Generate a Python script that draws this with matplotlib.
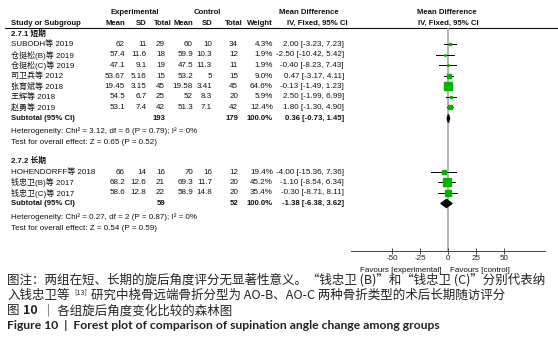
import matplotlib
matplotlib.use('Agg')
from matplotlib import pyplot as plt

plt.rcParams['font.family'] = ['Liberation Sans', 'Noto Sans CJK SC']

# subgroup 2.7.1 (short term)
studies1 = ['SUBODH等 2019', '仓挺松(B)等 2019', '仓挺松(C)等 2019', '司卫兵等 2012',
            '张育斌等 2018', '王辉等 2018', '赵勇等 2019']
exp_mean1 = ['62', '57.4', '47.1', '53.67', '19.45', '54.5', '53.1']
exp_sd1 = ['11', '11.6', '9.1', '5.16', '3.15', '6.7', '7.4']
exp_n1 = [29, 18, 19, 15, 45, 25, 42]
ctl_mean1 = ['60', '59.9', '47.5', '53.2', '19.58', '52', '51.3']
ctl_sd1 = ['10', '10.3', '11.3', '5', '3.41', '8.3', '7.1']
ctl_n1 = [34, 12, 11, 15, 45, 20, 42]
weight1 = [4.3, 1.9, 1.9, 9.0, 64.6, 5.9, 12.4]
md1 = [2.00, -2.50, -0.40, 0.47, -0.13, 2.50, 1.80]
lo1 = [-3.23, -10.42, -8.23, -3.17, -1.49, -1.99, -1.30]
hi1 = [7.23, 5.42, 7.43, 4.11, 1.23, 6.99, 4.90]
sub1 = [0.36, -0.73, 1.45]
het1 = 'Heterogeneity: Chi² = 3.12, df = 6 (P = 0.79); I² = 0%'
test1 = 'Test for overall effect: Z = 0.65 (P = 0.52)'

# subgroup 2.7.2 (long term)
studies2 = ['HOHENDORFF等 2018', '钱忠卫(B)等 2017', '钱忠卫(C)等 2017']
exp_mean2 = ['66', '68.2', '58.6']
exp_sd2 = ['14', '12.6', '12.8']
exp_n2 = [16, 21, 22]
ctl_mean2 = ['70', '69.3', '58.9']
ctl_sd2 = ['16', '11.7', '14.8']
ctl_n2 = [12, 20, 20]
weight2 = [19.4, 45.2, 35.4]
md2 = [-4.00, -1.10, -0.30]
lo2 = [-15.36, -8.54, -8.71]
hi2 = [7.36, 6.34, 8.11]
sub2 = [-1.38, -6.38, 3.62]
het2 = 'Heterogeneity: Chi² = 0.27, df = 2 (P = 0.87); I² = 0%'
test2 = 'Test for overall effect: Z = 0.54 (P = 0.59)'

ticks = [-50, -25, 0, 25, 50]

W, H = 558, 357
fig = plt.figure(figsize=(W / 100, H / 100), dpi=100)
fig.patch.set_facecolor('white')

# text layer in pixel coordinates
ax = fig.add_axes([0, 0, 1, 1])
ax.set_xlim(0, W)
ax.set_ylim(H, 0)
ax.axis('off')

fs = 5.8
fsb = 5.6
green = '#00b400'


def txt(x, y, s, ha='right', bold=False):
    ax.text(x, y, s, ha=ha, va='center', fontsize=fsb if bold else fs,
            fontweight='bold' if bold else 'normal', color='#111111')


# headers
txt(135, 13, 'Experimental', 'center', True)
txt(207, 13, 'Control', 'center', True)
txt(309, 13, 'Mean Difference', 'center', True)
txt(447, 13, 'Mean Difference', 'center', True)
txt(11, 23.5, 'Study or Subgroup', 'left', True)
for x, s in [(125, 'Mean'), (147, 'SD'), (172, 'Total'), (193, 'Mean'),
             (213, 'SD'), (243, 'Total'), (273, 'Weight')]:
    txt(x, 23.5, s, bold=True)
txt(317, 23.5, 'IV, Fixed, 95% CI', 'center', True)
txt(448, 23.5, 'IV, Fixed, 95% CI', 'center', True)
ax.plot([5, W], [27.5, 27.5], color='#111111', lw=0.8)

cols = [125, 146.5, 165, 193, 212, 238, 273, 344]


def group(title, ty, ys, studies, em, esd, en, cm, csd, cn, w, md, lo, hi,
          sub, sy, het, hy, test, tsy):
    txt(11, ty, title, 'left', True)
    for i, y in enumerate(ys):
        txt(11, y, studies[i], 'left')
        vals = [em[i], esd[i], str(en[i]), cm[i], csd[i], str(cn[i]),
                '%.1f%%' % w[i], '%.2f [%.2f, %.2f]' % (md[i], lo[i], hi[i])]
        for x, s in zip(cols, vals):
            txt(x, y, s)
    txt(11, sy, 'Subtotal (95% CI)', 'left', True)
    txt(cols[2], sy, str(sum(en)), bold=True)
    txt(cols[5], sy, str(sum(cn)), bold=True)
    txt(cols[6], sy, '100.0%', bold=True)
    txt(cols[7], sy, '%.2f [%.2f, %.2f]' % tuple(sub), bold=True)
    txt(11, hy, het, 'left')
    txt(11, tsy, test, 'left')


ys1 = [44.5, 55, 65.5, 76, 86.5, 97, 107.5]
ys2 = [172, 182.5, 193]
group('2.7.1 短期', 34, ys1, studies1, exp_mean1, exp_sd1, exp_n1, ctl_mean1,
      ctl_sd1, ctl_n1, weight1, md1, lo1, hi1, sub1, 118.5, het1, 131, test1, 142)
group('2.7.2 长期', 161, ys2, studies2, exp_mean2, exp_sd2, exp_n2, ctl_mean2,
      ctl_sd2, ctl_n2, weight2, md2, lo2, hi2, sub2, 203.5, het2, 217, test2, 229)

txt(441, 270, 'Favours [experimental]', 'right')
txt(450, 270, 'Favours [control]', 'left')

# forest panel
top, bot, left, right = 27.5, 250.6, 351, 545
fx = fig.add_axes([left / W, 1 - bot / H, (right - left) / W, (bot - top) / H])
fx.set_xlim(-86.6, 86.6)
fx.set_ylim(bot, top)
fx.patch.set_alpha(0)
for s in ['left', 'top', 'right']:
    fx.spines[s].set_visible(False)
fx.spines['bottom'].set_color('#444444')
fx.spines['bottom'].set_linewidth(0.7)
fx.set_yticks([])
fx.set_xticks(ticks)
fx.set_xticklabels([str(t) for t in ticks], fontsize=fs, color='#222222')
fx.tick_params(axis='x', direction='inout', length=4, width=0.7, color='#444444', pad=1.5)
fx.axvline(0, color='#a8a8a8', lw=1.2, zorder=1)


def draw_group(ys, md, lo, hi, w, sub, sy):
    for i, y in enumerate(ys):
        fx.plot([lo[i], hi[i]], [y, y], color='black', lw=0.7, zorder=2)
        fx.plot(md[i], y, marker='s', ms=0.75 * w[i] ** 0.5, color=green,
                mec=green, zorder=3)
    m, l, h = sub
    fx.fill([l, m, h, m], [sy, sy - 4, sy, sy + 4], color='black', zorder=3)


draw_group(ys1, md1, lo1, hi1, weight1, sub1, 118.5)
draw_group(ys2, md2, lo2, hi2, weight2, sub2, 203.5)

# caption
cap = 9.0
cfam = ['Noto Sans CJK SC']
ax.text(7, 280, '图注：两组在短、长期的旋后角度评分无显著性意义。“钱忠卫 (B)”和“钱忠卫 (C)”分别代表纳',
        fontsize=cap, family=cfam, va='center', ha='left', color='#222222')
ax.text(7, 295.5, '入钱忠卫等', fontsize=cap, family=cfam, va='center', ha='left', color='#222222')
ax.text(74, 292, '[13]', fontsize=5.2, family=cfam, va='center', ha='left', color='#222222')
ax.text(91, 295.5, '研究中桡骨远端骨折分型为 AO-B、AO-C 两种骨折类型的术后长期随访评分',
        fontsize=cap, family=cfam, va='center', ha='left', color='#222222')
ax.text(7, 310.5, '图', fontsize=cap, family=cfam, va='center', ha='left', color='#222222')
ax.text(23, 310.5, '10', fontsize=cap, family=cfam, fontweight='bold', va='center', ha='left',
        color='#222222')
ax.text(42, 310.5, '｜ 各组旋后角度变化比较的森林图', fontsize=cap, family=cfam,
        va='center', ha='left', color='#222222')
ax.text(7, 325.5, 'Figure 10  |  Forest plot of comparison of supination angle change among groups',
        fontsize=8.7, family=['Lato', 'DejaVu Sans'], fontweight='bold', va='center', ha='left',
        color='#222222')

fig.savefig('out.png', dpi=100)
